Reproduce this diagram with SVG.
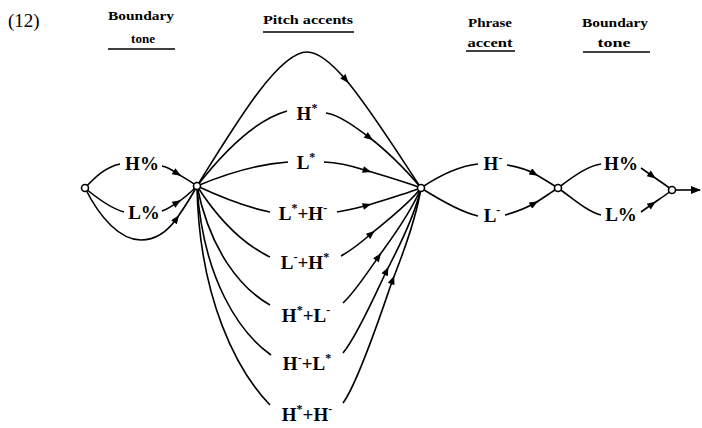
<svg xmlns="http://www.w3.org/2000/svg" width="702" height="428" viewBox="0 0 702 428">
<style>
.e{fill:none;stroke:#000;stroke-width:1.6}
.a{fill:none;stroke:#000;stroke-width:1.6;marker-mid:url(#ah)}
.n{fill:#fff;stroke:#000;stroke-width:1.6}
.lb{font-family:"Liberation Serif","DejaVu Serif",serif;font-size:19px;font-weight:bold;fill:#000;text-anchor:middle}
.sp{font-size:12px}
.hd{font-family:"Liberation Serif","DejaVu Serif",serif;font-size:13px;font-weight:bold;fill:#000;text-anchor:middle}
.ul{stroke:#000;stroke-width:1.6}
</style>
<defs>
<marker id="ah" viewBox="0 0 10 8" refX="6" refY="4" markerWidth="10" markerHeight="7" markerUnits="userSpaceOnUse" orient="auto">
<path d="M0,0 L10,4 L0,8 Z" fill="#000"/>
</marker>
<marker id="ae" viewBox="0 0 10 8" refX="9" refY="4" markerWidth="10" markerHeight="8" markerUnits="userSpaceOnUse" orient="auto">
<path d="M0,0 L10,4 L0,8 Z" fill="#000"/>
</marker>
</defs>
<text x="8" y="27" font-family="'Liberation Serif','DejaVu Serif',serif" font-size="19" fill="#000">(12)</text>
<g id="headers">
<text class="hd" x="141" y="20" textLength="66" lengthAdjust="spacingAndGlyphs">Boundary</text>
<text class="hd" x="143" y="43">tone</text>
<line class="ul" x1="108" y1="49" x2="175" y2="49"/>
<text class="hd" x="308" y="24" textLength="90" lengthAdjust="spacingAndGlyphs">Pitch accents</text>
<line class="ul" x1="263" y1="32" x2="354" y2="32"/>
<text class="hd" x="490" y="27" textLength="44" lengthAdjust="spacingAndGlyphs">Phrase</text>
<text class="hd" x="490" y="47" textLength="45" lengthAdjust="spacingAndGlyphs">accent</text>
<line class="ul" x1="466" y1="51" x2="515" y2="51"/>
<text class="hd" x="615" y="27" textLength="66" lengthAdjust="spacingAndGlyphs">Boundary</text>
<text class="hd" x="614" y="47" textLength="33" lengthAdjust="spacingAndGlyphs">tone</text>
<line class="ul" x1="583" y1="52" x2="650" y2="52"/>
</g>
<g id="connectors">
<!-- n0 -> n1 -->
<path class="e" d="M85,188 C96,176 106,167 120,164"/>
<path class="a" d="M162,166 C168,167 174,171.5 178,174 C182,176.5 190,181 197,186"/>
<path class="e" d="M85,188 C98,199 110,208 124,212"/>
<path class="a" d="M162,211 C168,209 174,204.5 178,202 C182,199.5 190,193 197,186"/>
<path class="e" d="M85,188 C100,218 120,240 141,240"/>
<path class="a" d="M141,240 C158,240 170,228 177,218 C184,208 190,199 197,186"/>
<!-- n1 -> n2 -->
<path class="e" d="M197,186 C238,120 279,52 307,52"/>
<path class="a" d="M307,52 C318.2,52 331.5,62.9 346.3,80.3 C368.4,106.4 394,147.2 421,188"/>
<path class="e" d="M197,186 C225,150 255,120 287,111"/>
<path class="a" d="M326,113 C340,115 358,129 370,138 C382,147 405,168 421,188"/>
<path class="e" d="M197,186 C230,172 260,164 288,162"/>
<path class="a" d="M324,162 C345,163 358,168 368,171 C378,174 402,181 421,188"/>
<path class="e" d="M197,186 C225,199 250,208 270,212"/>
<path class="a" d="M337,212 C348,210 358,208 368,205 C378,202 402,195 421,188"/>
<path class="e" d="M197,186 C220,222 245,245 270,257"/>
<path class="a" d="M341,256 C352,250 364,240 372,233 C382,224.5 408,205 421,188"/>
<path class="e" d="M197,186 C210,250 240,288 270,305"/>
<path class="a" d="M343,303 C355,292 372,266 379,256 C386,246 410,215 421,188"/>
<path class="e" d="M197,186 C203,280 240,333 271,355"/>
<path class="a" d="M343,353 C358,335 380,284 387,270 C393,258 414,220 421,188"/>
<path class="e" d="M197,186 C199,300 238,372 270,405"/>
<path class="a" d="M343,403 C360,380 387,295 393,279 C398,266 415,225 421,188"/>
<!-- n2 -> n3 -->
<path class="e" d="M421,188 C440,175 460,166 478,164"/>
<path class="a" d="M507,165 C518,167 528,170 535,174 C542,178 550,183 558,188"/>
<path class="e" d="M421,188 C440,200 460,212 478,216"/>
<path class="a" d="M505,215 C516,212 528,207 535,203 C542,199 550,193 558,188"/>
<!-- n3 -> n4 -->
<path class="e" d="M558,188 C575,175 588,166 601,164"/>
<path class="a" d="M641,168 C645,171 649,173.5 653,176.5 C658,180 666,185 672,190"/>
<path class="e" d="M558,188 C575,200 588,212 601,215"/>
<path class="a" d="M641,212 C645,209 649,206.5 653,203.5 C658,200 666,195 672,190"/>
<path class="e" d="M675,190 L700,190" marker-end="url(#ae)"/>
</g>
<g id="labels">
<text class="lb" x="142" y="170">H%</text>
<text class="lb" x="144" y="219">L%</text>
<text class="lb" x="307" y="120">H<tspan class="sp" dy="-8">*</tspan></text>
<text class="lb" x="306" y="169">L<tspan class="sp" dy="-8">*</tspan></text>
<text class="lb" x="303" y="220">L<tspan class="sp" dy="-8">*</tspan><tspan dy="8">+H</tspan><tspan class="sp" dy="-8">-</tspan></text>
<text class="lb" x="305" y="269">L<tspan class="sp" dy="-8">-</tspan><tspan dy="8">+H</tspan><tspan class="sp" dy="-8">*</tspan></text>
<text class="lb" x="306" y="322">H<tspan class="sp" dy="-8">*</tspan><tspan dy="8">+L</tspan><tspan class="sp" dy="-8">-</tspan></text>
<text class="lb" x="307" y="370">H<tspan class="sp" dy="-8">-</tspan><tspan dy="8">+L</tspan><tspan class="sp" dy="-8">*</tspan></text>
<text class="lb" x="307" y="421">H<tspan class="sp" dy="-8">*</tspan><tspan dy="8">+H</tspan><tspan class="sp" dy="-8">-</tspan></text>
<text class="lb" x="493" y="170">H<tspan class="sp" dy="-8">-</tspan></text>
<text class="lb" x="492" y="222">L<tspan class="sp" dy="-8">-</tspan></text>
<text class="lb" x="621" y="170">H%</text>
<text class="lb" x="621" y="221">L%</text>
</g>
<g id="n0"><circle class="n" cx="85" cy="188" r="3.5"/></g>
<g id="n1"><circle class="n" cx="197" cy="186" r="3.5"/></g>
<g id="n2"><circle class="n" cx="421" cy="188" r="3.5"/></g>
<g id="n3"><circle class="n" cx="558" cy="188" r="3.5"/></g>
<g id="n4"><circle class="n" cx="672" cy="190" r="3.5"/></g>
</svg>
